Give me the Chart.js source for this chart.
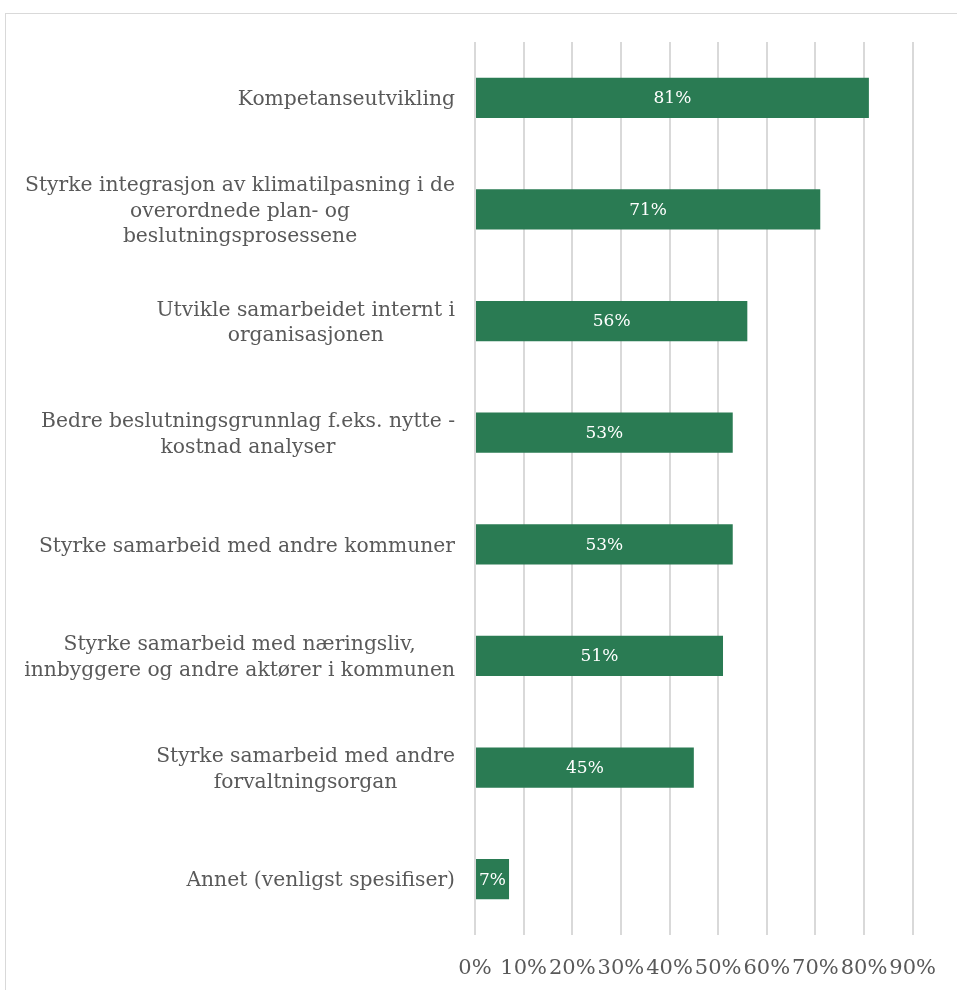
<!DOCTYPE html>
<html>
<head>
<meta charset="utf-8">
<script src="https://cdn.jsdelivr.net/npm/chart.js@4/dist/chart.umd.min.js"></script>
<style>
    body { margin: 0; background: #fff; overflow: hidden; }
    #frame { position: absolute; left: 5px; top: 13px; width: 1100px; height: 1100px; border: 1px solid #d9d9d9; }
    #wrap { position: absolute; left: 0; top: 0; width: 957px; height: 990px; }
</style>
</head>
<body>
<div id="frame"></div>
<div id="wrap"><canvas id="barChart"></canvas></div>
<script>
const categories = [
    ["Kompetanseutvikling"],
    ["Styrke integrasjon av klimatilpasning i de", "overordnede plan- og", "beslutningsprosessene"],
    ["Utvikle samarbeidet internt i", "organisasjonen"],
    ["Bedre beslutningsgrunnlag f.eks. nytte -", "kostnad analyser"],
    ["Styrke samarbeid med andre kommuner"],
    ["Styrke samarbeid med næringsliv,", "innbyggere og andre aktører i kommunen"],
    ["Styrke samarbeid med andre", "forvaltningsorgan"],
    ["Annet (venligst spesifiser)"]
];
const shares = [81, 71, 56, 53, 53, 51, 45, 7];
const tickValues = [0, 10, 20, 30, 40, 50, 60, 70, 80, 90];

const FONT = '"DejaVu Serif", serif';
const GREY = '#595959';

// category labels: block right aligned, lines centred inside the block
const categoryLabels = {
    id: 'categoryLabels',
    afterDraw(chart) {
        const { ctx, chartArea } = chart;
        const yScale = chart.scales.y;
        const right = chartArea.left - 20;
        const lh = 25.5;
        ctx.save();
        ctx.font = '20.3px ' + FONT;
        ctx.fillStyle = GREY;
        ctx.textAlign = 'center';
        ctx.textBaseline = 'middle';
        categories.forEach((lines, i) => {
            const y = yScale.getPixelForValue(i) + 2;
            const widest = Math.max(...lines.map(l => ctx.measureText(l).width));
            const cx = right - widest / 2;
            lines.forEach((l, j) => {
                ctx.fillText(l, cx, y + (j - (lines.length - 1) / 2) * lh);
            });
        });
        ctx.restore();
    }
};

// value labels inside the bars
const valueLabels = {
    id: 'valueLabels',
    afterDatasetsDraw(chart) {
        const { ctx } = chart;
        const meta = chart.getDatasetMeta(0);
        ctx.save();
        ctx.font = '17px ' + FONT;
        ctx.fillStyle = '#ffffff';
        ctx.textAlign = 'center';
        ctx.textBaseline = 'middle';
        meta.data.forEach((bar, i) => {
            ctx.fillText(shares[i] + '%', (bar.x + bar.base) / 2, bar.y + 1);
        });
        ctx.restore();
    }
};

new Chart(document.getElementById('barChart'), {
    type: 'bar',
    data: {
        labels: categories,
        datasets: [{
            data: shares,
            backgroundColor: '#2A7B53',
            borderWidth: 0,
            categoryPercentage: 1,
            barPercentage: 0.36
        }]
    },
    options: {
        indexAxis: 'y',
        responsive: true,
        maintainAspectRatio: false,
        animation: false,
        layout: { padding: { left: 467, top: 42, right: 37, bottom: 10 } },
        plugins: {
            legend: { display: false },
            tooltip: { enabled: false }
        },
        scales: {
            x: {
                min: 0,
                max: 90,
                afterBuildTicks: axis => { axis.ticks = tickValues.map(v => ({ value: v })); },
                afterFit: axis => { axis.height = 45; },
                grid: { color: '#d9d9d9', lineWidth: 2, drawTicks: false },
                border: { display: false },
                ticks: {
                    color: GREY,
                    font: { family: FONT, size: 21 },
                    padding: 21,
                    maxRotation: 0,
                    autoSkip: false,
                    callback: v => v + '%'
                }
            },
            y: {
                grid: { display: false },
                border: { display: false },
                ticks: { display: false }
            }
        }
    },
    plugins: [categoryLabels, valueLabels]
});
</script>
</body>
</html>
